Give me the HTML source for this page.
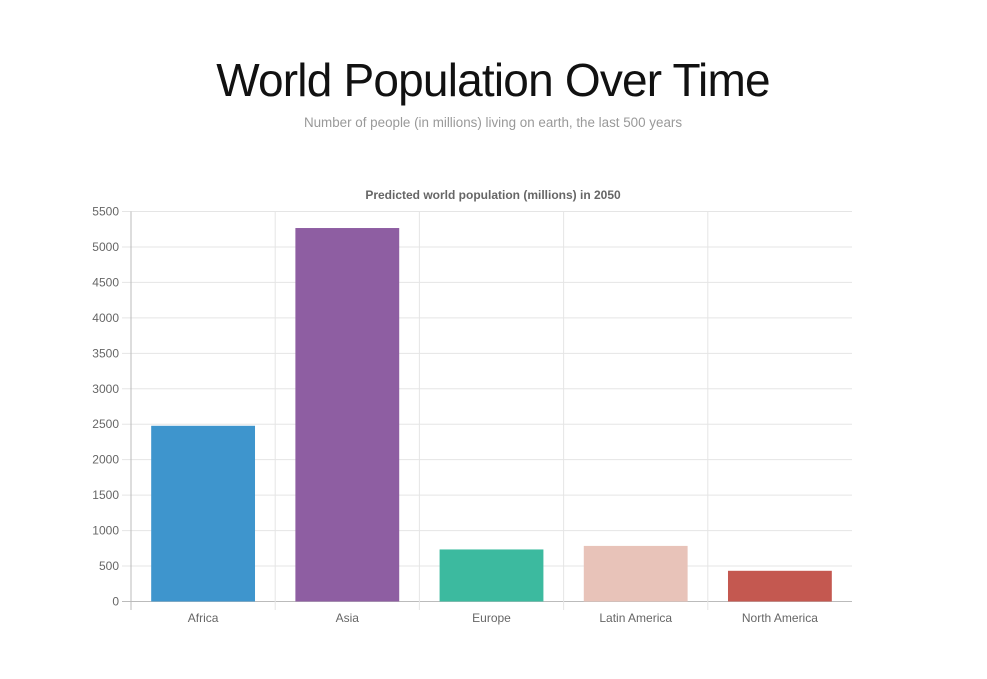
<!DOCTYPE html>
<html><head><meta charset="utf-8"><style>
body{margin:0;background:#fff;font-family:"Liberation Sans",Helvetica,Arial,sans-serif;}
svg{display:block}
</style></head><body>
<svg width="987" height="679" id="chart">
<text x="493" y="96" text-anchor="middle" font-size="46" font-weight="300" fill="#111" style="letter-spacing:-0.8px">World Population Over Time</text>
<text x="493" y="127" text-anchor="middle" font-size="13.4" fill="#999">Number of people (in millions) living on earth, the last 500 years</text>
<text x="493" y="199" text-anchor="middle" font-size="12" font-weight="bold" fill="#666">Predicted world population (millions) in 2050</text>
<g id="grid"></g><g id="bars"></g><g id="axes"></g>
</svg>
<script>
const categories=["Africa","Asia","Europe","Latin America","North America"];
const values=[2478,5267,734,784,433];
const colors=["#3e95cd","#8e5ea2","#3cba9f","#e8c3b9","#c45850"];
const yTicks=[0,500,1000,1500,2000,2500,3000,3500,4000,4500,5000,5500];
const X0=131,X1=852,Y0=601.5,YT=211.5,YMAX=5500;
const NS="http://www.w3.org/2000/svg";
const y=v=>Y0-(v/YMAX)*(Y0-YT);
const bw=(X1-X0)/categories.length;
const x=i=>X0+i*bw;
function mk(t,a,p){const e=document.createElementNS(NS,t);for(const k in a)e.setAttribute(k,a[k]);p.appendChild(e);return e;}
const grid=document.getElementById('grid'),bars=document.getElementById('bars'),axes=document.getElementById('axes');
yTicks.forEach(v=>{
 const l=mk('line',{x1:122,x2:X1,y1:y(v),y2:y(v),stroke:v===0?'#bbb':'#e5e5e5','stroke-width':1},grid);
 
 
 const t=mk('text',{x:119,y:y(v)+4,'text-anchor':'end','font-size':12,fill:'#666'},axes);
 t.textContent=v;
 
 
});
for(let i=0;i<categories.length;i++){
 const l=mk('line',{x1:x(i),x2:x(i),y1:YT,y2:610,stroke:i===0?'#bbb':'#e5e5e5','stroke-width':1},grid);
 
 
}
categories.forEach((c,i)=>{
 const pad=bw*0.14;
 const r=mk('rect',{x:x(i)+pad,y:y(values[i]),width:bw-2*pad,height:Y0-y(values[i]),fill:colors[i]},bars);
 
 
 const t=mk('text',{x:x(i)+bw/2,y:622,'text-anchor':'middle','font-size':12,fill:'#666'},axes);
 t.textContent=c;
 
 
});
</script>
</body></html>
